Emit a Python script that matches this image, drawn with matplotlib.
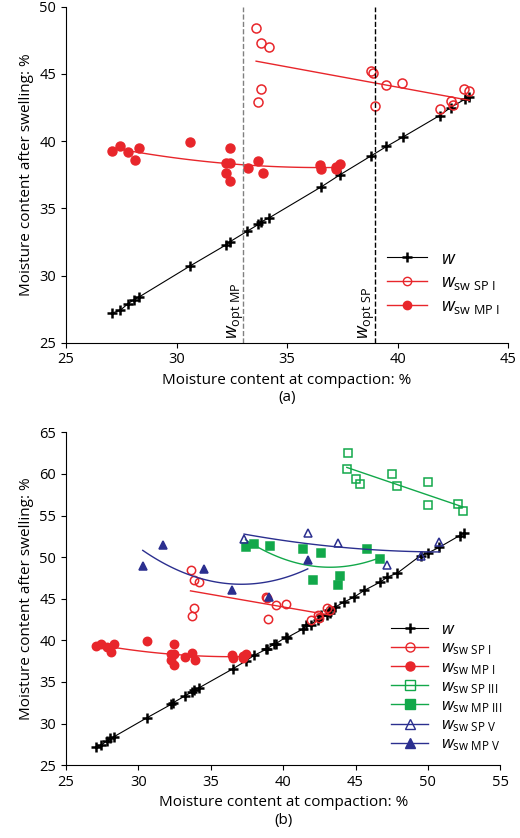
import numpy as np
import matplotlib.pyplot as plt

plt.rcParams['font.family'] = ['Open Sans', 'DejaVu Sans']
plt.rcParams['mathtext.fontset'] = 'custom'
plt.rcParams['mathtext.it'] = 'Open Sans:italic'
plt.rcParams['mathtext.rm'] = 'Open Sans'

# ===== DATA =====
w_x = [27.06, 27.44, 27.8, 28.07, 28.3, 30.6, 32.26, 32.4, 33.2, 33.7, 33.84, 34.2,
       36.55, 37.4, 38.8, 39.5, 40.24, 41.9, 42.4, 43.03, 43.25]
w_y = [27.2, 27.4, 27.9, 28.2, 28.4, 30.7, 32.3, 32.5, 33.3, 33.8, 34.0, 34.3,
       36.6, 37.5, 38.9, 39.6, 40.3, 41.9, 42.5, 43.1, 43.3]
# extra W points only in panel (b)
w2_x = [38.0, 38.9, 39.4, 40.2, 41.4, 41.6, 42.6, 43.2, 43.6, 44.2, 44.9, 45.6,
        46.7, 47.2, 47.9, 49.5, 50.0, 50.8, 52.2, 52.5]
w2_y = [38.2, 39.0, 39.6, 40.4, 41.4, 41.8, 43.0, 43.6, 44.0, 44.6, 45.2, 46.0,
        47.0, 47.6, 48.1, 50.2, 50.5, 51.2, 52.6, 52.9]

sp1_x = [33.6, 33.84, 34.2, 33.84, 33.7, 38.8, 38.9, 38.96, 39.5, 40.2, 41.9, 42.4, 42.5, 43.0, 43.25]
sp1_y = [48.4, 47.3, 47.0, 43.9, 42.9, 45.25, 45.1, 42.6, 44.2, 44.35, 42.4, 43.0, 42.7, 43.9, 43.7]

mp1_x = [27.06, 27.44, 27.8, 28.1, 28.3, 30.6, 32.44, 32.26, 32.44, 32.26, 32.44,
         33.24, 33.7, 33.9, 36.48, 36.55, 37.2, 37.4, 37.2]
mp1_y = [39.3, 39.6, 39.2, 38.6, 39.5, 39.9, 39.5, 38.4, 38.4, 37.6, 37.0,
         38.0, 38.5, 37.6, 38.2, 37.9, 37.9, 38.3, 38.1]

sp3_x = [44.5, 44.4, 45.0, 45.3, 47.5, 47.9, 50.0, 50.0, 52.1, 52.4]
sp3_y = [62.5, 60.6, 59.4, 58.8, 60.0, 58.6, 59.0, 56.3, 56.4, 55.5]

mp3_x = [37.4, 38.0, 39.1, 41.4, 42.6, 45.8, 46.7, 42.05, 43.9, 43.8]
mp3_y = [51.2, 51.6, 51.3, 51.0, 50.5, 51.0, 49.8, 47.2, 47.7, 46.6]

sp5_x = [37.3, 41.7, 43.8, 47.2, 49.5, 50.8]
sp5_y = [52.2, 52.9, 51.7, 49.0, 50.1, 51.8]

mp5_x = [30.3, 31.7, 34.5, 36.5, 39.0, 41.7]
mp5_y = [48.9, 51.5, 48.6, 46.0, 45.2, 49.7]

RED = '#e8262b'
GREEN = '#12a84a'
BLUE = '#2b2f8f'


def trend(ax, x, y, color, deg=1):
    c = np.polyfit(x, y, deg)
    xs = np.linspace(min(x), max(x), 100)
    ax.plot(xs, np.polyval(c, xs), color=color, lw=1)


def plot_w(ax, x, y):
    o = np.argsort(x)
    ax.plot(np.array(x)[o], np.array(y)[o], color='black', lw=0.8, marker='+',
            ms=7, mew=1.8, label='$w$')


def style(ax):
    for s in ['top', 'right']:
        ax.spines[s].set_visible(False)
    ax.tick_params(direction='out', labelsize=10.5)
    ax.set_ylabel('Moisture content after swelling: %', fontsize=11)


fig = plt.figure(figsize=(5.2, 8.38), dpi=100)

# ----- panel (a) -----
ax = fig.add_axes([0.127, 0.591, 0.85, 0.401])
plot_w(ax, w_x, w_y)
ax.plot(sp1_x, sp1_y, 'o', mfc='none', mec=RED, ms=6.5, mew=1.1, ls='none')
trend(ax, sp1_x, sp1_y, RED)
ax.plot(mp1_x, mp1_y, 'o', color=RED, ms=6.5, ls='none')
trend(ax, mp1_x, mp1_y, RED, 2)
ax.plot([], [], color=RED, lw=1, marker='o', mfc='none', mec=RED, label=r'$w_\mathrm{sw\ SP\ I}$')
ax.plot([], [], color=RED, lw=1, marker='o', label=r'$w_\mathrm{sw\ MP\ I}$')
ax.axvline(33, color='grey', ls='--', lw=1)
ax.axvline(39, color='black', ls='--', lw=1)
ax.text(32.7, 25.3, r'$w_\mathrm{opt\ MP}$', rotation=90, ha='center', va='bottom', fontsize=13)
ax.text(38.6, 25.3, r'$w_\mathrm{opt\ SP}$', rotation=90, ha='center', va='bottom', fontsize=13)
ax.set_xlim(25, 45)
ax.set_ylim(25, 50)
ax.set_xticks([25, 30, 35, 40, 45])
ax.set_yticks([25, 30, 35, 40, 45, 50])
style(ax)
ax.set_xlabel('Moisture content at compaction: %\n(a)', fontsize=11)
ax.legend(loc='lower right', bbox_to_anchor=(1.02, 0.03), frameon=False, fontsize=13,
          handlelength=2.2, labelspacing=0.3)

# ----- panel (b) -----
ax = fig.add_axes([0.127, 0.087, 0.835, 0.397])
plot_w(ax, w_x + w2_x, w_y + w2_y)
series = [
    (sp1_x, sp1_y, RED, 'o', False, 1, r'$w_\mathrm{sw\ SP\ I}$'),
    (mp1_x, mp1_y, RED, 'o', True, 2, r'$w_\mathrm{sw\ MP\ I}$'),
    (sp3_x, sp3_y, GREEN, 's', False, 1, r'$w_\mathrm{sw\ SP\ III}$'),
    (mp3_x, mp3_y, GREEN, 's', True, 2, r'$w_\mathrm{sw\ MP\ III}$'),
    (sp5_x, sp5_y, BLUE, '^', False, 2, r'$w_\mathrm{sw\ SP\ V}$'),
    (mp5_x, mp5_y, BLUE, '^', True, 2, r'$w_\mathrm{sw\ MP\ V}$'),
]
for x, y, c, m, filled, deg, lab in series:
    fc = c if filled else 'none'
    ax.plot(x, y, m, mfc=fc, mec=c, ms=6, mew=1.1, ls='none')
    trend(ax, x, y, c, deg)
    ax.plot([], [], color=c, lw=1, marker=m, mfc=fc, mec=c, ms=6.5, label=lab)
ax.set_xlim(25, 55)
ax.set_ylim(25, 65)
ax.set_xticks([25, 30, 35, 40, 45, 50, 55])
ax.set_yticks([25, 30, 35, 40, 45, 50, 55, 60, 65])
style(ax)
ax.set_xlabel('Moisture content at compaction: %\n(b)', fontsize=11)
ax.legend(loc='lower right', bbox_to_anchor=(1.04, -0.01), frameon=False, fontsize=12,
          handlelength=2.2, labelspacing=0.15)

fig.savefig('out.png', dpi=100)
